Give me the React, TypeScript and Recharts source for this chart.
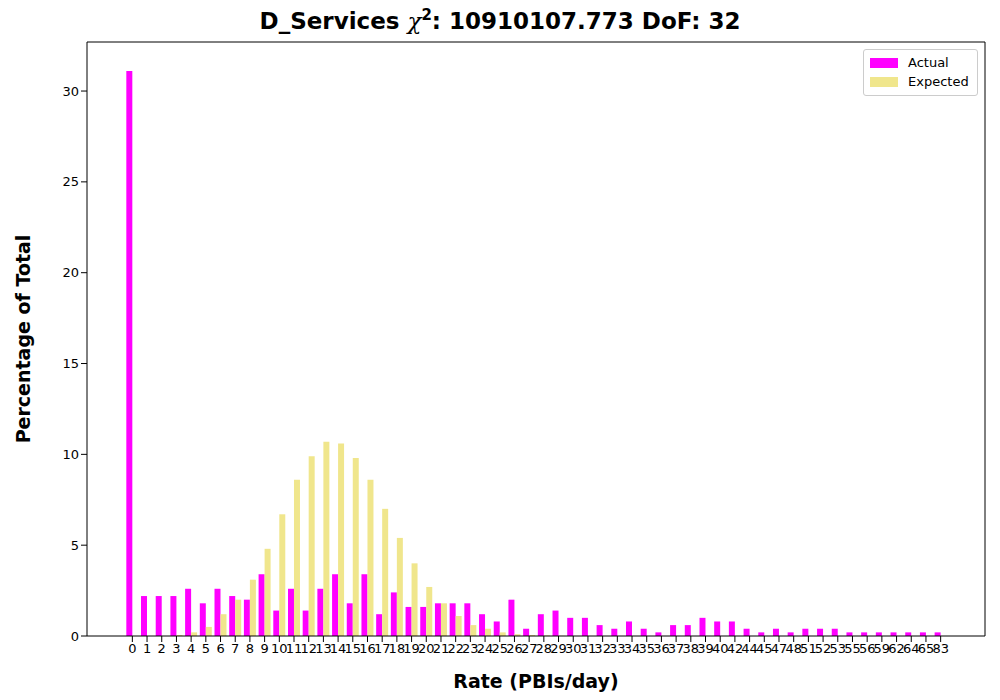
import { BarChart, Bar, XAxis, YAxis, Label } from 'recharts';

const rates = ['0','1','2','3','4','5','6','7','8','9','10','11','12','13','14','15','16','17','18','19','20','21','22','23','24','25','26','27','28','29','30','31','32','33','34','35','36','37','38','39','40','42','44','45','47','48','51','52','53','55','56','59','62','64','65','83'];
const actual = [31.1,2.2,2.2,2.2,2.6,1.8,2.6,2.2,2.0,3.4,1.4,2.6,1.4,2.6,3.4,1.8,3.4,1.2,2.4,1.6,1.6,1.8,1.8,1.8,1.2,0.8,2.0,0.4,1.2,1.4,1.0,1.0,0.6,0.4,0.8,0.4,0.2,0.6,0.6,1.0,0.8,0.8,0.4,0.2,0.4,0.2,0.4,0.4,0.4,0.2,0.2,0.2,0.2,0.2,0.2,0.2];
const expected = [0,0,0,0.05,0.2,0.5,1.2,2.0,3.1,4.8,6.7,8.6,9.9,10.7,10.6,9.8,8.6,7.0,5.4,4.0,2.7,1.8,1.1,0.6,0.4,0.2,0.1,0.05,0.03,0.01,0,0,0,0,0,0,0,0,0,0,0,0,0,0,0,0,0,0,0,0,0,0,0,0,0,0];
const yTicks = [0, 5, 10, 15, 20, 25, 30];

const data = rates.map((r, i) => ({ rate: r, actual: actual[i], expected: expected[i] }));

export default function App() {
  const font = 'DejaVu Sans';
  return (
    <div style={{ position: 'absolute', left: 0, top: 0, width: 1000, height: 700, background: '#fff', fontFamily: font }}>
      <div style={{ position: 'absolute', top: 6, width: 1000, textAlign: 'center', fontSize: 23, fontWeight: 'bold' }}>
        D_Services <i style={{ fontWeight: 'normal', fontFamily: 'DejaVu Serif' }}>χ</i><sup style={{ fontSize: 15 }}>2</sup>: 10910107.773 DoF: 32
      </div>
      <BarChart width={1000} height={700} data={data} margin={{ top: 42, right: 15, bottom: 34, left: 37 }}
        barCategoryGap="9%" barGap={0}>
        <XAxis dataKey="rate" interval={0} padding={{ left: 38, right: 37 }} height={30}
          tick={{ fontSize: 13, fill: '#000', fontFamily: font }} tickLine={{ stroke: '#000' }} axisLine={{ stroke: '#000' }}>
          <Label value="Rate (PBIs/day)" position="insideBottom" offset={-22} style={{ fontSize: 19, fontWeight: 'bold', fill: '#000', fontFamily: font }} />
        </XAxis>
        <YAxis domain={[0, 32.7]} ticks={yTicks} width={50} tick={{ fontSize: 13, fill: '#000', fontFamily: font }}
          tickLine={{ stroke: '#000' }} axisLine={{ stroke: '#000' }}>
          <Label value="Percentage of Total" angle={-90} position="insideLeft" offset={-14} style={{ fontSize: 19, fontWeight: 'bold', fill: '#000', fontFamily: font, textAnchor: 'middle' }} />
        </YAxis>
        <Bar dataKey="actual" fill="#ff00ff" isAnimationActive={false} />
        <Bar dataKey="expected" fill="#f0e68c" isAnimationActive={false} />
        <line x1={985} y1={42} x2={985} y2={636} stroke="#000" />
        <line x1={87} y1={42} x2={985} y2={42} stroke="#000" />
      </BarChart>
      <div style={{ position: 'absolute', left: 863, top: 49, width: 113, height: 45, border: '1px solid #ccc', borderRadius: 3, fontSize: 13, background: '#fff' }}>
        <div style={{ display: 'flex', alignItems: 'center', marginTop: 5, marginLeft: 6 }}>
          <span style={{ width: 28, height: 10, background: '#ff00ff', marginRight: 10 }} />Actual
        </div>
        <div style={{ display: 'flex', alignItems: 'center', marginTop: 4, marginLeft: 6 }}>
          <span style={{ width: 28, height: 10, background: '#f0e68c', marginRight: 10 }} />Expected
        </div>
      </div>
    </div>
  );
}
